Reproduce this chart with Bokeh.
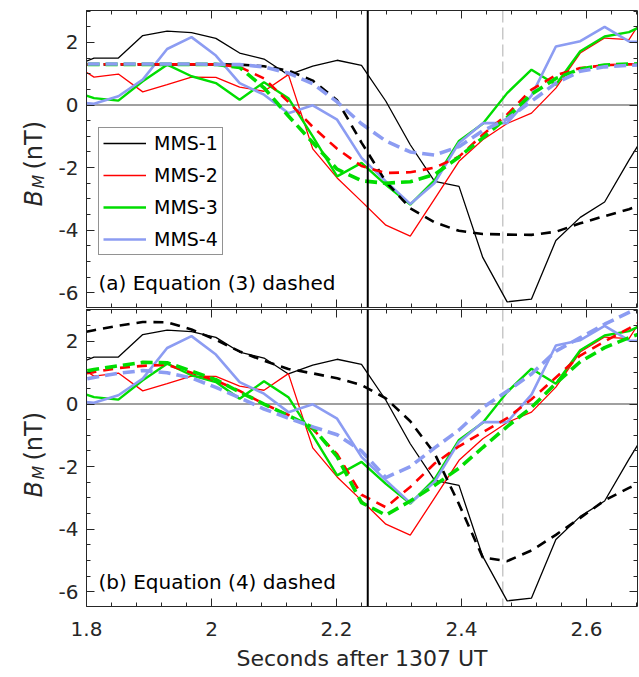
import numpy as np
from bokeh.plotting import figure
from bokeh.models import (Range1d, FixedTicker, CustomJSTickFormatter, LinearAxis,
                          Span, Label, Legend, LegendItem)
from bokeh.layouts import column, row
from bokeh.embed import file_html
from bokeh.resources import INLINE

# ---------------- data (seconds after 1307 UT) ----------------
t = [1.773, 1.812, 1.851, 1.890, 1.929, 1.968, 2.007, 2.045, 2.084, 2.123, 2.162, 2.201,
     2.240, 2.279, 2.318, 2.357, 2.396, 2.434, 2.473, 2.512, 2.551, 2.590, 2.629, 2.668, 2.707]

# observed B_M (nT), same in both panels
mms1 = [1.18, 1.50, 1.50, 2.22, 2.36, 2.31, 2.13, 1.66, 1.47, 0.96, 1.24, 1.43, 1.27,
        0.12, -1.27, -2.44, -2.60, -4.87, -6.29, -6.20, -4.33, -3.59, -3.10, -1.76, -0.50]
mms2 = [1.40, 0.89, 0.99, 0.42, 0.65, 0.89, 0.88, 0.57, 0.44, 0.97, -1.40, -2.33, -3.08,
        -3.84, -4.19, -3.00, -1.80, -1.11, -0.59, -0.26, 0.54, 1.66, 2.14, 2.09, 3.30]
mms3 = [0.48, 0.22, 0.14, 0.76, 1.29, 0.92, 0.70, 0.17, 0.73, 0.22, -1.00, -2.28, -1.85,
        -2.55, -3.18, -2.40, -1.15, -0.60, 0.38, 1.13, 0.65, 1.72, 2.19, 2.33, 2.70]
mms4 = [0.10, 0.04, 0.28, 0.81, 1.79, 2.17, 1.58, 0.70, 0.33, -0.26, -0.01, -0.47, -1.69,
        -2.44, -3.16, -2.49, -1.21, -0.58, -0.58, 0.30, 1.87, 2.04, 2.50, 2.03, 2.00]

# panel (a): Equation (3) model
eq3_1 = [1.30, 1.30, 1.30, 1.30, 1.30, 1.30, 1.30, 1.29, 1.24, 1.10, 0.78, 0.15, -1.20,
         -2.45, -3.30, -3.75, -4.02, -4.12, -4.14, -4.15, -4.05, -3.78, -3.55, -3.33, -3.05]
eq3_2 = [1.30, 1.30, 1.30, 1.30, 1.30, 1.30, 1.30, 1.22, 0.85, 0.10, -0.70, -1.40, -1.95,
         -2.17, -2.15, -2.00, -1.65, -0.95, -0.30, 0.49, 0.95, 1.18, 1.27, 1.30, 1.31]
eq3_3 = [1.30, 1.30, 1.30, 1.30, 1.30, 1.30, 1.30, 1.20, 0.55, -0.35, -1.20, -2.05, -2.42,
         -2.50, -2.45, -2.22, -1.66, -1.05, -0.40, 0.35, 0.85, 1.15, 1.28, 1.31, 1.32]
eq3_4 = [1.31, 1.31, 1.31, 1.31, 1.31, 1.31, 1.30, 1.29, 1.22, 1.02, 0.68, 0.10, -0.60,
         -1.15, -1.50, -1.60, -1.33, -0.82, -0.45, 0.12, 0.70, 1.08, 1.22, 1.27, 1.29]

# panel (b): Equation (4) model
eq4_1 = [2.20, 2.36, 2.50, 2.62, 2.61, 2.38, 2.05, 1.68, 1.38, 1.12, 0.98, 0.82, 0.61,
         0.18, -0.55, -1.58, -3.20, -4.90, -5.02, -4.68, -4.18, -3.64, -3.08, -2.68, -2.35]
eq4_2 = [0.90, 1.02, 1.15, 1.22, 1.25, 1.00, 0.75, 0.42, 0.00, -0.35, -0.80, -1.60, -2.90,
         -3.30, -2.65, -1.90, -1.35, -0.90, -0.45, 0.15, 0.85, 1.55, 2.00, 2.42, 2.85]
eq4_3 = [0.95, 1.10, 1.22, 1.33, 1.32, 1.05, 0.78, 0.38, 0.00, -0.37, -0.75, -1.68, -3.15,
         -3.55, -3.10, -2.60, -2.05, -1.39, -0.72, -0.11, 0.66, 1.35, 1.80, 2.12, 2.40]
eq4_4 = [0.70, 0.85, 0.98, 1.07, 1.00, 0.83, 0.53, 0.20, -0.16, -0.45, -0.73, -0.98, -1.50,
         -2.35, -2.00, -1.40, -0.83, -0.12, 0.41, 0.96, 1.69, 2.12, 2.55, 2.93, 3.30]

series_names = ["MMS-1", "MMS-2", "MMS-3", "MMS-4"]
x_major = [1.8, 2.0, 2.2, 2.4, 2.6]
y_major = [-6, -4, -2, 0, 2]
T_SOLID = 2.25      # vertical black line
T_DASHED = 2.466    # vertical grey dashed line

# ---------------- style ----------------
X_START, X_END = 1.8, 2.6816
Y_START, Y_END = -6.47, 3.02
x_minor = [round(1.8 + 0.04 * i, 2) for i in range(23)]
y_minor = [-6.5 + 0.5 * i for i in range(20)]
FONT = "DejaVu Sans"
AX = "#262626"
COLORS = ["#000000", "#ff0000", "#00dd00", "#8c9cf2"]
SOLID_W = [1.3, 1.3, 2.4, 2.6]
DASH_W = [2.6, 2.6, 3.6, 3.6]
DASH_PAT = ["10 7", "10 7", "12 6", "12 6"]
LAB_W = 50          # width of the y-label strip
FRAME_W, FRAME_H = 551, 297

xr = Range1d(X_START, X_END)
xt = FixedTicker(ticks=x_major, minor_ticks=x_minor)
yt = FixedTicker(ticks=y_major, minor_ticks=y_minor)


def style_axis(ax, labels):
    ax.axis_line_color = AX
    ax.axis_line_width = 1
    ax.major_tick_in = 8
    ax.major_tick_out = 0
    ax.minor_tick_in = 4
    ax.minor_tick_out = 0
    ax.major_tick_line_color = AX
    ax.minor_tick_line_color = AX
    if labels:
        ax.formatter = CustomJSTickFormatter(code="return String(Math.round(tick*10)/10);")
        ax.major_label_text_font = FONT
        ax.major_label_text_font_size = "20px"
        ax.major_label_text_color = AX
    else:
        ax.formatter = CustomJSTickFormatter(code="return '';")
        ax.major_label_text_font_size = "0px"
        ax.major_label_standoff = 0


def ylabel_strip(height, y0):
    f = figure(frame_width=LAB_W, frame_height=height, x_range=Range1d(0, 1),
               y_range=Range1d(0, 1), output_backend="svg", toolbar_location=None,
               x_axis_location=None, y_axis_location=None,
               min_border_left=0, min_border_right=0, min_border_top=0, min_border_bottom=0,
               background_fill_color="white", border_fill_color="white")
    f.grid.visible = False
    f.outline_line_color = None
    f.add_layout(Label(x=33, y=y0, x_units="screen", y_units="screen", text="B",
                       angle=90, angle_units="deg", text_font=FONT,
                       text_font_style="italic", text_font_size="24px",
                       text_color=AX, text_baseline="alphabetic", text_align="left"))
    f.add_layout(Label(x=38, y=y0 + 18, x_units="screen", y_units="screen", text="M",
                       angle=90, angle_units="deg", text_font=FONT,
                       text_font_style="italic", text_font_size="16px",
                       text_color=AX, text_baseline="alphabetic", text_align="left"))
    f.add_layout(Label(x=33, y=y0 + 37, x_units="screen", y_units="screen", text="(nT)",
                       angle=90, angle_units="deg", text_font=FONT,
                       text_font_size="24px",
                       text_color=AX, text_baseline="alphabetic", text_align="left"))
    return f


def make_panel(solids, dashes, note, with_legend, bottom_labels, top_border, bottom_border):
    p = figure(frame_width=FRAME_W, frame_height=FRAME_H, x_range=xr,
               y_range=Range1d(Y_START, Y_END),
               output_backend="svg", toolbar_location=None,
               x_axis_location=None, y_axis_location=None,
               min_border_left=86 - LAB_W, min_border_right=2,
               min_border_top=top_border, min_border_bottom=bottom_border,
               background_fill_color="white", border_fill_color="white")
    p.grid.visible = False
    p.outline_line_color = None

    left = LinearAxis(ticker=yt)
    style_axis(left, True)
    left.major_label_standoff = 8
    p.add_layout(left, "left")
    right = LinearAxis(ticker=yt)
    style_axis(right, False)
    p.add_layout(right, "right")
    top = LinearAxis(ticker=xt)
    style_axis(top, False)
    p.add_layout(top, "above")
    bottom = LinearAxis(ticker=xt)
    style_axis(bottom, bottom_labels)
    if bottom_labels:
        bottom.major_label_standoff = 15
        bottom.axis_label = "Seconds after 1307 UT"
        bottom.axis_label_text_font = FONT
        bottom.axis_label_text_font_size = "22px"
        bottom.axis_label_text_font_style = "normal"
        bottom.axis_label_text_color = AX
        bottom.axis_label_standoff = 7
    p.add_layout(bottom, "below")

    p.add_layout(Span(location=0, dimension="width", line_color="#808080",
                      line_width=1.6, level="underlay"))
    p.add_layout(Span(location=T_DASHED, dimension="height", line_color="#c8c8c8",
                      line_width=1.5, line_dash="12 5", level="underlay"))

    rs = []
    for ys, c, w in zip(solids, COLORS, SOLID_W):
        rs.append(p.line(t, ys, line_color=c, line_width=w))
    for ys, c, w, d in zip(dashes, COLORS, DASH_W, DASH_PAT):
        p.line(t, ys, line_color=c, line_width=w, line_dash=d)

    p.add_layout(Span(location=T_SOLID, dimension="height", line_color="black",
                      line_width=2))

    p.add_layout(Label(x=12, y=25, x_units="screen", y_units="screen", text=note,
                       text_font=FONT, text_font_size="20px", text_color="black",
                       text_baseline="alphabetic", text_align="left"))

    if with_legend:
        leg = Legend(items=[LegendItem(label=n, renderers=[r]) for n, r in zip(series_names, rs)],
                     location=(12, 52))
        leg.margin = 0
        leg.padding = 4
        leg.spacing = 10
        leg.glyph_width = 43
        leg.glyph_height = 20
        leg.label_height = 20
        leg.label_standoff = 8
        leg.label_text_font = FONT
        leg.label_text_font_size = "19px"
        leg.label_text_color = "black"
        leg.border_line_color = AX
        leg.border_line_width = 1
        leg.background_fill_color = "white"
        leg.background_fill_alpha = 1.0
        p.add_layout(leg)
    return p


pa = make_panel([mms1, mms2, mms3, mms4], [eq3_1, eq3_2, eq3_3, eq3_4],
                "(a) Equation (3) dashed", True, False, 10, 1)
pb = make_panel([mms1, mms2, mms3, mms4], [eq4_1, eq4_2, eq4_3, eq4_4],
                "(b) Equation (4) dashed", False, True, 1, 0)

la = ylabel_strip(10 + FRAME_H + 1, 112)
lb = ylabel_strip(1 + FRAME_H, 110)

layout = column(row(la, pa, spacing=0), row(lb, pb, spacing=0), spacing=0)
open("out.html", "w").write(file_html(layout, INLINE))
